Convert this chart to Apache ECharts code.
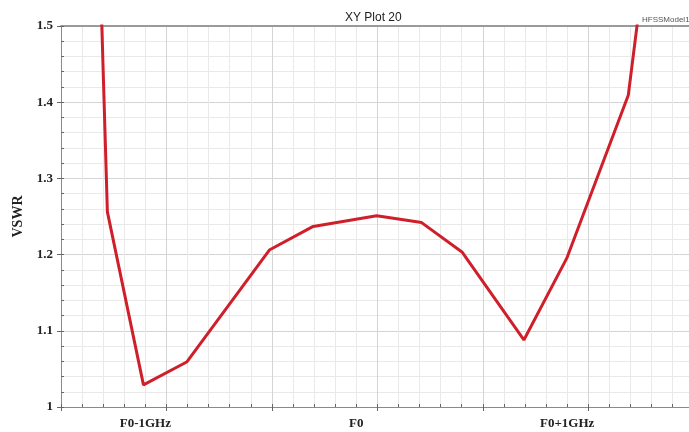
<!DOCTYPE html>
<html>
<head>
<meta charset="utf-8">
<script src="https://cdn.jsdelivr.net/npm/echarts@6/dist/echarts.min.js"></script>
<style>
html,body{margin:0;padding:0;background:#fff;}
#chart{width:689px;height:432px;}
</style>
</head>
<body>
<div id="chart"></div>
<script>
// Frequency offset from F0 (GHz) and VSWR values
var freqOffset = [-1.215, -1.18, -1.009, -0.804, -0.412, -0.204, 0.097, 0.31, 0.503, 0.795, 0.998, 1.29, 1.345];
var vswr       = [1.58, 1.256, 1.029, 1.059, 1.206, 1.237, 1.251, 1.242, 1.203, 1.088, 1.195, 1.409, 1.53];
var xLabelValues = [-1, 0, 1];
var xLabelTexts  = ['F0-1GHz', 'F0', 'F0+1GHz'];

var xMin = -1.4, xMax = 1.578;
var serif = '"Liberation Serif", "DejaVu Serif", serif';
var sans = '"Liberation Sans", Arial, sans-serif';

var chart = echarts.init(document.getElementById('chart'), null, {renderer: 'canvas'});
chart.setOption({
  backgroundColor: '#ffffff',
  animation: false,
  title: [
    {text: 'XY Plot 20', left: 340, top: 7, textStyle: {fontFamily: sans, fontSize: 12, fontWeight: 'normal', color: '#222'}},
    {text: 'HFSSModel1', left: 637, top: 11, textStyle: {fontFamily: sans, fontSize: 8, fontWeight: 'normal', color: '#555'}}
  ],
  grid: {left: 61, right: 0, top: 26, bottom: 25},
  xAxis: [
    {
      type: 'value', min: xMin, max: xMax, interval: 0.5, position: 'bottom',
      axisLine: {show: true, onZero: false, lineStyle: {color: '#8a8a8a', width: 1}},
      axisTick: {show: true, inside: false, length: 4, lineStyle: {color: '#666'}},
      axisLabel: {show: false},
      splitLine: {show: true, lineStyle: {color: '#d4d4d4', width: 1}},
      minorTick: {show: false},
      minorSplitLine: {show: true, lineStyle: {color: '#e9e9e9', width: 1}}
    },
    {
      type: 'value', min: xMin, max: xMax, interval: 0.1, position: 'bottom',
      axisLine: {show: false, onZero: false},
      axisTick: {show: true, inside: true, length: 3, lineStyle: {color: '#666'}},
      splitLine: {show: false},
      axisLabel: {
        show: true, customValues: xLabelValues, margin: 10,
        fontFamily: serif, fontSize: 13, fontWeight: 'bold', color: '#222',
        formatter: function (v) {
          for (var i = 0; i < xLabelValues.length; i++) {
            if (Math.abs(v - xLabelValues[i]) < 1e-6) return xLabelTexts[i];
          }
          return '';
        }
      }
    },
    {
      type: 'value', min: xMin, max: xMax, position: 'top',
      axisLine: {show: true, onZero: false, lineStyle: {color: '#9a9a9a', width: 2}},
      axisTick: {show: false}, axisLabel: {show: false}, splitLine: {show: false}
    }
  ],
  yAxis: [
    {
      type: 'value', min: 1, max: 1.5, interval: 0.1, position: 'left',
      name: 'VSWR', nameLocation: 'middle', nameGap: 36, nameRotate: 90,
      nameTextStyle: {fontFamily: serif, fontSize: 14, fontWeight: 'bold', color: '#222'},
      axisLine: {show: true, onZero: false, lineStyle: {color: '#8a8a8a', width: 1}},
      axisTick: {show: true, inside: false, length: 4, lineStyle: {color: '#666'}},
      axisLabel: {margin: 8, fontFamily: serif, fontSize: 13, fontWeight: 'bold', color: '#222',
        formatter: function (v) { return String(Math.round(v * 10) / 10); }},
      splitLine: {show: true, lineStyle: {color: '#d4d4d4', width: 1}},
      minorTick: {show: false},
      minorSplitLine: {show: true, lineStyle: {color: '#e9e9e9', width: 1}}
    },
    {
      type: 'value', min: 1, max: 1.5, interval: 0.02, position: 'left',
      axisLine: {show: false, onZero: false},
      axisTick: {show: true, inside: true, length: 3, lineStyle: {color: '#666'}},
      axisLabel: {show: false}, splitLine: {show: false}
    }
  ],
  series: [{
    type: 'line',
    xAxisIndex: 0, yAxisIndex: 0,
    data: freqOffset.map(function (f, i) { return [f, vswr[i]]; }),
    symbol: 'none', smooth: false, clip: true,
    lineStyle: {color: '#cf1f2b', width: 3},
    z: 5
  }]
});
</script>
</body>
</html>
